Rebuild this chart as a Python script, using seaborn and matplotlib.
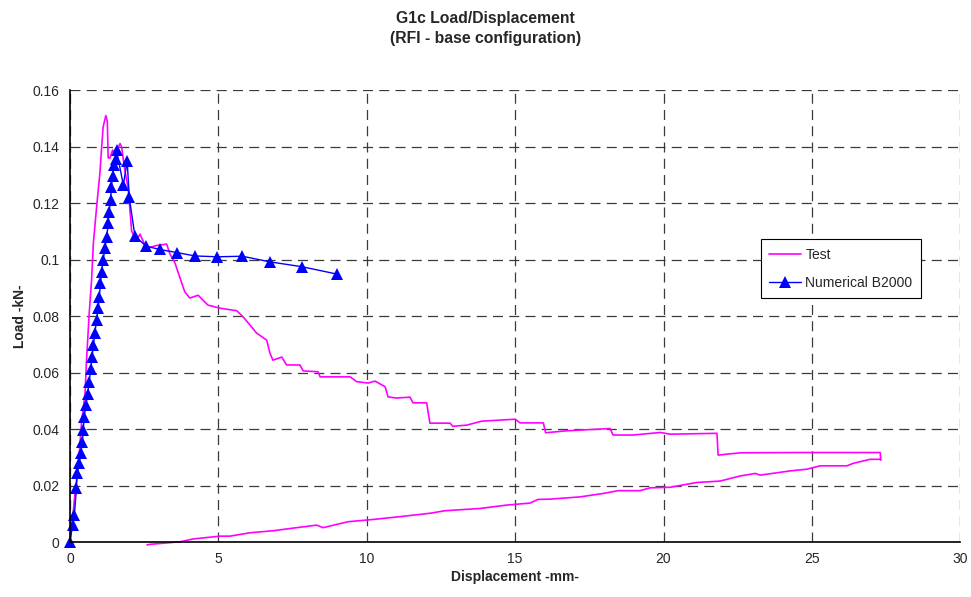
import numpy as np
import pandas as pd
import seaborn as sns
from matplotlib import pyplot as plt
from matplotlib.ticker import FuncFormatter

# Test curve, loading + softening branch
test_load_x = [0.0, 0.11, 0.17, 0.28, 0.39, 0.51, 0.56, 0.65, 0.73, 0.79, 0.9, 1.01, 1.07, 1.12,
               1.21, 1.26, 1.29, 1.35, 1.44, 1.52, 1.6, 1.69, 1.74, 1.85, 1.97, 2.08, 2.25, 2.36,
               2.58, 2.92, 3.26, 3.37, 3.54, 3.71, 3.87, 4.04, 4.32, 4.65, 5.06, 5.62, 5.83, 6.07,
               6.29, 6.63, 6.74, 6.84, 7.14, 7.3, 7.75, 7.86, 8.36, 8.43, 9.44, 9.66, 10.05, 10.28,
               10.62, 10.72, 11.0, 11.46, 11.56, 12.02, 12.13, 12.81, 12.9, 13.37, 13.87, 15.0,
               15.17, 15.95, 16.03, 16.74, 18.2, 18.3, 18.98, 19.89, 20.22, 21.8, 21.84, 22.58,
               24.49, 27.3, 27.32]
test_load_y = [0.0, 0.0103, 0.0173, 0.0267, 0.042, 0.0527, 0.0644, 0.081, 0.0927, 0.1058, 0.1187,
               0.1306, 0.14, 0.147, 0.151, 0.149, 0.136, 0.136, 0.1388, 0.137, 0.139, 0.1411, 0.14,
               0.1317, 0.1246, 0.110, 0.1069, 0.109, 0.104, 0.105, 0.1055, 0.102, 0.0988, 0.0935,
               0.0886, 0.0864, 0.0874, 0.0839, 0.0828, 0.0819, 0.0798, 0.0768, 0.074, 0.0715,
               0.0669, 0.0644, 0.0655, 0.0627, 0.0627, 0.0606, 0.0603, 0.0585, 0.0585, 0.0568,
               0.0563, 0.057, 0.055, 0.0514, 0.051, 0.0513, 0.0493, 0.0493, 0.0421, 0.0421, 0.041,
               0.0414, 0.0428, 0.0435, 0.0422, 0.0422, 0.0387, 0.0394, 0.0402, 0.0379, 0.0379,
               0.0388, 0.0382, 0.0385, 0.0308, 0.0316, 0.0317, 0.0317, 0.029]

# Test curve, unloading branch
test_unload_x = [27.3, 26.96, 26.4, 26.18, 25.28, 24.83, 24.27, 23.26, 23.09, 22.58, 21.91, 21.12,
                 20.22, 19.55, 19.21, 18.47, 17.96, 17.19, 16.18, 15.77, 15.5, 14.72, 13.82, 12.64,
                 12.13, 11.12, 10.21, 9.37, 8.53, 8.31, 7.42, 6.84, 6.07, 5.39, 5.06, 4.15, 3.71,
                 2.7, 2.6]
test_unload_y = [0.0293, 0.0293, 0.0279, 0.027, 0.027, 0.0258, 0.0252, 0.0237, 0.0243, 0.0234,
                 0.0216, 0.0211, 0.0194, 0.0192, 0.0182, 0.0182, 0.0172, 0.016, 0.0152, 0.0151,
                 0.0138, 0.0131, 0.0119, 0.0111, 0.0102, 0.009, 0.008, 0.0072, 0.0051, 0.006,
                 0.0048, 0.004, 0.0033, 0.0021, 0.0021, 0.0011, 0.0001, -0.0008, -0.001]

# Numerical B2000
num_x = [0.0, 0.09, 0.15, 0.22, 0.24, 0.31, 0.37, 0.42, 0.45, 0.48, 0.54, 0.6, 0.65, 0.7, 0.75,
         0.79, 0.84, 0.9, 0.95, 0.99, 1.03, 1.07, 1.12, 1.18, 1.24, 1.29, 1.32, 1.37, 1.40, 1.44,
         1.49, 1.55, 1.57, 1.80, 1.93, 2.0, 2.19, 2.56, 3.02, 3.6, 4.22, 4.96, 5.81, 6.74, 7.81, 8.99]
num_y = [0.0, 0.006, 0.0096, 0.019, 0.0243, 0.0279, 0.0314, 0.0355, 0.0396, 0.0444, 0.0485,
         0.0526, 0.0567, 0.0611, 0.0656, 0.0697, 0.0739, 0.0786, 0.0827, 0.0868, 0.0916, 0.0957,
         0.0998, 0.104, 0.108, 0.1128, 0.1169, 0.121, 0.1258, 0.1297, 0.1335, 0.1358, 0.1388,
         0.1264, 0.1349, 0.122, 0.1084, 0.1048, 0.1036, 0.1025, 0.1013, 0.101, 0.1012, 0.0992,
         0.0975, 0.0949]

x_ticks = [0, 5, 10, 15, 20, 25, 30]
y_ticks = [0, 0.02, 0.04, 0.06, 0.08, 0.1, 0.12, 0.14, 0.16]

test_df = pd.DataFrame({"disp": test_load_x + test_unload_x, "load": test_load_y + test_unload_y})
num_df = pd.DataFrame({"disp": num_x, "load": num_y})

sns.set_style("white")
plt.rcParams["font.family"] = ["Liberation Sans", "DejaVu Sans"]

fig = plt.figure(figsize=(9.71, 5.97), dpi=100)
ax = fig.add_axes([0.072, 0.092, 0.917, 0.757])

sns.lineplot(data=test_df, x="disp", y="load", sort=False, estimator=None, color="#FF00FF",
             linewidth=1.2, label="Test", ax=ax)
sns.lineplot(data=num_df, x="disp", y="load", sort=False, estimator=None, color="#0000FF",
             linewidth=1.0, marker="^", markersize=8, markeredgewidth=0,
             label="Numerical B2000", ax=ax)
for ln in ax.lines:
    ln.set_clip_on(False)

ax.set_xlim(0, 30)
ax.set_ylim(0, 0.16)
ax.set_xticks(x_ticks)
ax.set_yticks(y_ticks)
ax.yaxis.set_major_formatter(FuncFormatter(lambda v, p: "%g" % v))
ax.tick_params(axis="both", labelsize=10, direction="out", length=4, width=1, color="black")
ax.tick_params(axis="x", pad=3)

ax.grid(True, color="#3a3a3a", linestyle=(0, (8, 5)), linewidth=0.9)
ax.set_axisbelow(True)
for side in ["top", "right"]:
    ax.spines[side].set_visible(False)
for side in ["left", "bottom"]:
    ax.spines[side].set_color("black")
    ax.spines[side].set_linewidth(1.2)

ax.set_xlabel("Displacement -mm-", fontsize=10, fontweight="bold", labelpad=3)
ax.set_ylabel("Load -kN-", fontsize=10, fontweight="bold", labelpad=4)

fig.text(0.5, 0.952, "G1c Load/Displacement\n(RFI - base configuration)", ha="center",
         va="center", fontsize=11.3, fontweight="bold", linespacing=1.45)

leg = ax.legend(loc="center", bbox_to_anchor=(0.866, 0.605), fontsize=10, frameon=True,
                fancybox=False, framealpha=1, edgecolor="black", handlelength=2.3,
                labelspacing=1.0, borderpad=0.6, handletextpad=0.3)
leg.get_frame().set_linewidth(0.8)

plt.savefig("out.png", dpi=100)
